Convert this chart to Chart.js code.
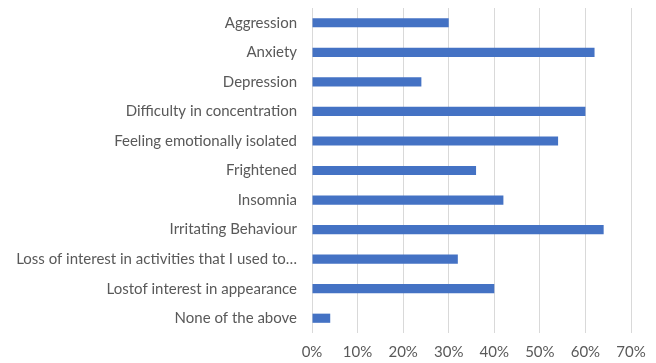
<!DOCTYPE html>
<html>
<head>
<meta charset="utf-8">
<script src="https://cdn.jsdelivr.net/npm/chart.js@4"></script>
<style>
  html, body { margin: 0; padding: 0; background: #fff; }
  #wrap { width: 656px; height: 363px; }
</style>
</head>
<body>
<div id="wrap"><canvas id="chart-bar"></canvas></div>
<script>
const categories = [
  "Aggression",
  "Anxiety",
  "Depression",
  "Difficulty in concentration",
  "Feeling emotionally isolated",
  "Frightened",
  "Insomnia",
  "Irritating Behaviour",
  "Loss of interest in activities that I used to\u2026",
  "Lostof interest in appearance",
  "None of the above"
];
const percentages = [30, 62, 24, 60, 54, 36, 42, 64, 32, 40, 4];
const tickMax = 70;
const tickStep = 10;

new Chart(document.getElementById("chart-bar"), {
  type: "bar",
  data: {
    labels: categories,
    datasets: [{
      data: percentages,
      backgroundColor: "#4472C4",
      borderWidth: 0,
      barPercentage: 0.62,
      categoryPercentage: 0.5
    }]
  },
  options: {
    indexAxis: "y",
    responsive: true,
    maintainAspectRatio: false,
    animation: false,
    layout: { padding: { top: 8, right: 25, bottom: 0, left: 0 } },
    plugins: {
      legend: { display: false },
      tooltip: { enabled: false }
    },
    scales: {
      x: {
        min: 0,
        max: tickMax,
        grid: { color: "#d9d9d9", drawTicks: false },
        border: { display: false },
        ticks: {
          stepSize: tickStep,
          padding: 10,
          color: "#595959",
          font: { family: "Lato", size: 15 },
          callback: v => v + "%"
        },
        afterFit: s => { s.height = 30; s.paddingLeft = 0; s.paddingRight = 0; }
      },
      y: {
        grid: { display: false },
        border: { display: false },
        ticks: {
          padding: 7,
          color: "#595959",
          font: { family: "Lato", size: 15 },
          autoSkip: false
        },
        afterFit: s => { s.width = 312; s.paddingTop = 0; s.paddingBottom = 0; }
      }
    }
  }
});
</script>
</body>
</html>
